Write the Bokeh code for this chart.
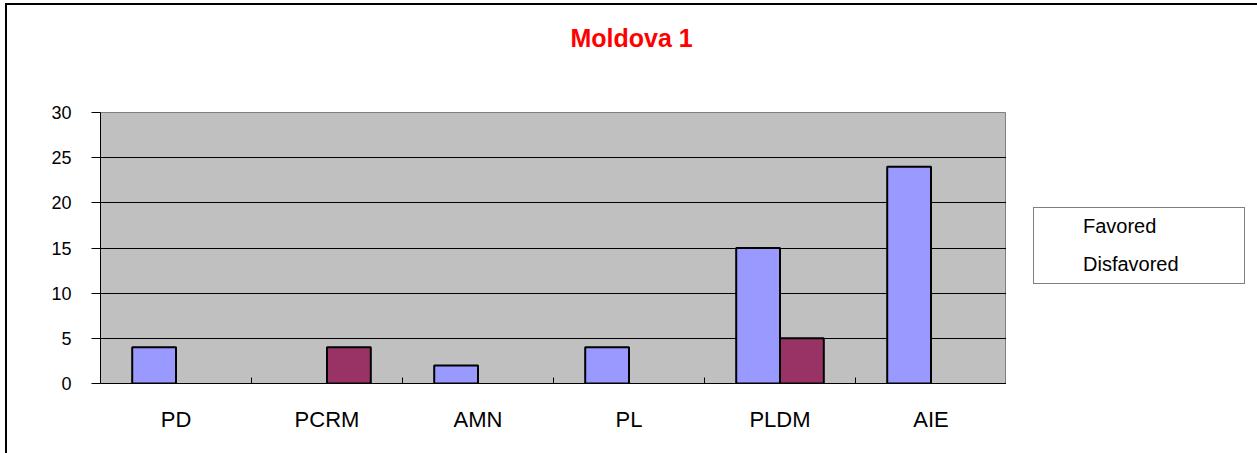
from bokeh.plotting import figure
from bokeh.layouts import row
from bokeh.models import (ColumnDataSource, Range1d, FixedTicker, Legend, LegendItem,
                          CDSView, BooleanFilter, Title)
from bokeh.transform import dodge
from bokeh.embed import file_html
from bokeh.resources import INLINE

# ---- data ----
categories = ["PD", "PCRM", "AMN", "PL", "PLDM", "AIE"]
favored = [4, 0, 2, 4, 15, 24]
disfavored = [0, 4, 0, 0, 5, 0]
series_names = ["Favored", "Disfavored"]
y_ticks = [0, 5, 10, 15, 20, 25, 30]
title_text = "Moldova 1"

FONT = "Liberation Sans"
FAV_COLOR = "#9999FF"
DIS_COLOR = "#993366"

n = len(categories)
centers = [i + 0.5 for i in range(n)]
bounds = list(range(1, n))

p = figure(width=999, height=448,
           x_range=Range1d(0, n), y_range=Range1d(0, 30),
           output_backend="svg", toolbar_location=None,
           min_border_left=93, min_border_right=0, min_border_top=107, min_border_bottom=70,
           background_fill_color="#C0C0C0", border_fill_color="white")
p.outline_line_color = "#808080"
p.outline_line_width = 1

# spacer between title and plot area (closest to the frame)
p.add_layout(Title(text=" ", text_font_size="1px", standoff=58), "above")

# title (outermost)
p.title.text = title_text
p.title.align = "left"
p.title.offset = 470
p.title.vertical_align = "bottom"
p.title.standoff = 0
p.title.text_font = FONT
p.title.text_font_style = "bold"
p.title.text_font_size = "25px"
p.title.text_color = "#FF0000"

# y axis
p.yaxis.ticker = FixedTicker(ticks=y_ticks)
p.yaxis.major_tick_out = 9
p.yaxis.major_tick_in = 0
p.yaxis.minor_tick_out = 0
p.yaxis.minor_tick_in = 0
p.yaxis.axis_line_color = "black"
p.yaxis.major_tick_line_color = "black"
p.yaxis.major_label_standoff = 20
p.yaxis.major_label_text_font = FONT
p.yaxis.major_label_text_font_size = "18px"
p.yaxis.major_label_text_color = "black"
p.ygrid.grid_line_color = "black"
p.ygrid.grid_line_width = 1
p.xgrid.grid_line_color = None

# x axis: labels at category centres, small inward ticks at category boundaries
p.xaxis.ticker = FixedTicker(ticks=centers, minor_ticks=bounds)
p.xaxis.major_label_overrides = {c: name for c, name in zip(centers, categories)}
p.xaxis.major_tick_in = 0
p.xaxis.major_tick_out = 0
p.xaxis.minor_tick_in = 6
p.xaxis.minor_tick_out = 0
p.xaxis.minor_tick_line_color = "black"
p.xaxis.axis_line_color = "black"
p.xaxis.major_label_standoff = 23
p.xaxis.major_label_text_font = FONT
p.xaxis.major_label_text_font_size = "22px"
p.xaxis.major_label_text_color = "black"

# bars
src = ColumnDataSource(dict(x=centers, cat=categories, fav=favored, dis=disfavored))
view_f = CDSView(filter=BooleanFilter([v != 0 for v in favored]))
view_d = CDSView(filter=BooleanFilter([v != 0 for v in disfavored]))
p.vbar(x=dodge("x", -0.145), top="fav", bottom=0, width=0.29,
       source=src, view=view_f, fill_color=FAV_COLOR, line_color="black", line_width=2)
p.vbar(x=dodge("x", 0.145), top="dis", bottom=0, width=0.29,
       source=src, view=view_d, fill_color=DIS_COLOR, line_color="black", line_width=2)

# legend panel (separate figure placed to the right of the chart; its frame is
# aligned with the chart's frame). Proxy renderers draw no bars (empty view).
lf = figure(width=251, height=448, x_range=Range1d(0, n), y_range=Range1d(-2, -1),
            output_backend="svg", toolbar_location=None,
            x_axis_location=None, y_axis_location=None,
            min_border_left=0, min_border_right=0, min_border_top=0, min_border_bottom=0,
            background_fill_color="white", border_fill_color="white")
lf.outline_line_color = None
lf.grid.visible = False
hidden = CDSView(filter=BooleanFilter([False] * n))
g1 = lf.vbar(x="x", top="fav", bottom=0, width=0.29, source=src, view=hidden,
             fill_color=FAV_COLOR, line_color="black", line_width=1.5)
g2 = lf.vbar(x="x", top="dis", bottom=0, width=0.29, source=src, view=hidden,
             fill_color=DIS_COLOR, line_color="black", line_width=1.5)
legend = Legend(items=[LegendItem(label=series_names[0], renderers=[g1]),
                       LegendItem(label=series_names[1], renderers=[g2])],
                location=(27, 99), orientation="vertical",
                glyph_width=10, glyph_height=10, label_standoff=32, spacing=15,
                padding=7, margin=0, border_line_color="black", border_line_width=1,
                background_fill_color="white", background_fill_alpha=1,
                label_text_font=FONT, label_text_font_size="20px", label_text_color="black",
                label_width=154, label_height=20)
lf.add_layout(legend)

layout = row(p, lf, spacing=0)
layout.styles = {"border-left": "2px solid black", "border-top": "2px solid black",
                 "margin-left": "5px", "margin-top": "3px"}

open("out.html", "w").write(file_html(layout, INLINE))
